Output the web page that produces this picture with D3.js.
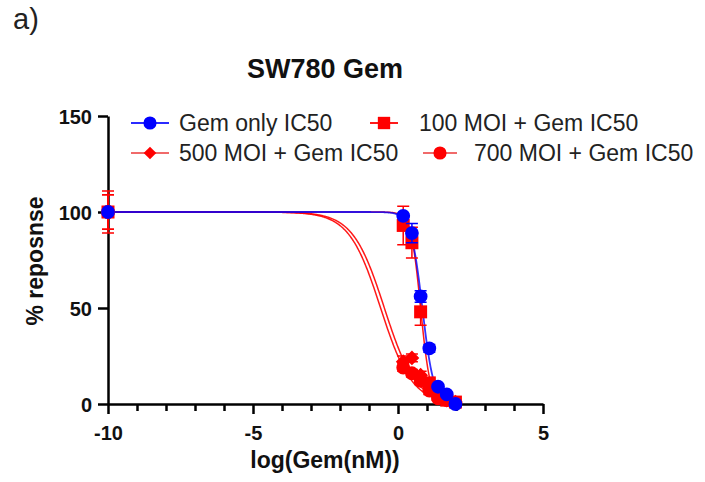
<!DOCTYPE html>
<html>
<head>
<meta charset="utf-8">
<script src="https://cdn.jsdelivr.net/npm/d3@7"></script>
<style>
  body { margin: 0; background: #fff; }
  text { font-family: 'Liberation Sans', Arial, sans-serif; }
</style>
</head>
<body>
<div id="chart"></div>
<script>
// log(Gem(nM)) doses, -10 stands for the untreated control
const doses = [-10, 0.18, 0.48, 0.78, 1.08, 1.38, 1.68, 1.98]

const gemOnly = [100, 98, 89, 56, 29, 9, 5, 0]
const gemOnlyErr = [1, 1, 5, 3, 2, 1, 1, 1]
const moi100 = [100, 93, 84, 48, 11, 5, 2, 1]
const moi100Err = [11, 10, 8, 7, 2, 1, 1, 1]
const moi500 = [100, 22, 24, 15, 9, 5, 2, 1]
const moi500Err = [9, 3, 2, 2, 2, 1, 1, 1]
const moi700 = [100, 19, 16, 12, 7, 3, 2, 0.5]
const moi700Err = [9, 2, 2, 2, 2, 1, 1, 1]

const seriesNames = ['Gem only IC50', '100 MOI + Gem IC50', '500 MOI + Gem IC50', '700 MOI + Gem IC50']
// fitted dose-response parameters (top 100, bottom 0)
const logIC50 = [0.84, 0.78, -0.47, -0.6]
const hillSlope = [2.2, 2.6, 0.8, 0.8]

const xTicks = [-10, -5, 0, 5]
const yTicks = [0, 50, 100, 150]

let width = 705
let height = 482

var svg = d3
  .select('#chart')
  .append('svg')
  .attr('width', width)
  .attr('height', height)

let xScale = d3.scaleLinear().domain([-10, 5]).range([108, 543])
let yScale = d3.scaleLinear().domain([0, 150]).range([404, 116])

let series = [
  { name: seriesNames[0], values: gemOnly, err: gemOnlyErr, color: '#0000ff', shape: 'circle', legendLine: '#2b2bff' },
  { name: seriesNames[1], values: moi100, err: moi100Err, color: '#ff0000', shape: 'square', legendLine: '#ff1a1a' },
  { name: seriesNames[2], values: moi500, err: moi500Err, color: '#ff0000', shape: 'diamond', legendLine: '#f06a6a' },
  { name: seriesNames[3], values: moi700, err: moi700Err, color: '#ff0000', shape: 'circle', legendLine: '#f06a6a' }
]
series.forEach((s, i) => {
  s.ic50 = logIC50[i]
  s.hill = hillSlope[i]
})

function marker(shape) {
  if (shape === 'circle') return d3.symbol(d3.symbolCircle, 150)()
  if (shape === 'square') return d3.symbol(d3.symbolSquare, 169)()
  return d3.symbol(d3.symbolSquare, 110)()
}

// axes (plain hyphen for negatives, like the original)
let xAxis = svg
  .append('g')
  .attr('transform', `translate(0,${yScale(0)})`)
  .call(
    d3.axisBottom(xScale)
      .tickValues(xTicks)
      .tickFormat(d => String(d))
      .tickSize(10)
      .tickSizeOuter(0)
      .tickPadding(12)
  )
svg
  .append('g')
  .attr('transform', `translate(0,${yScale(0)})`)
  .call(
    d3.axisBottom(xScale)
      .tickValues(d3.range(-10, 6).filter(d => d % 5 !== 0))
      .tickSize(7)
      .tickSizeOuter(0)
      .tickFormat('')
  )
  .select('.domain')
  .remove()

let yAxis = svg
  .append('g')
  .attr('transform', `translate(${xScale(-10)},0)`)
  .call(d3.axisLeft(yScale).tickValues(yTicks).tickSize(10).tickSizeOuter(0).tickPadding(6))

svg.selectAll('.domain, .tick line').attr('stroke', '#000').attr('stroke-width', 2.5)
svg
  .selectAll('.tick text')
  .attr('font-size', 20)
  .attr('font-weight', 'bold')
  .attr('fill', '#111')
yAxis.selectAll('.tick text').attr('dy', '0.36em')

// fitted curves
let fitXs = d3.range(-10, 2.02, 0.02)
var line = d3
  .line()
  .x(d => xScale(d[0]))
  .y(d => yScale(d[1]))

let drawOrder = [3, 2, 1, 0]
drawOrder.forEach(i => {
  let s = series[i]
  let pts = fitXs.map(x => [x, 100 / (1 + Math.pow(10, (x - s.ic50) * s.hill))])
  svg
    .append('path')
    .datum(pts)
    .attr('d', line)
    .attr('fill', 'none')
    .attr('stroke', s.color)
    .attr('stroke-width', i === 0 ? 1.8 : 1.5)
    .attr('stroke-opacity', i === 0 ? 0.8 : 0.9)
})

// error bars and points
drawOrder.forEach(i => {
  let s = series[i]
  let g = svg.append('g')
  let pts = doses.map((x, j) => ({ x: x, y: s.values[j], e: s.err[j] }))

  g.selectAll('.err')
    .data(pts)
    .enter()
    .append('path')
    .attr('d', d => {
      let x = xScale(d.x)
      let y1 = yScale(d.y + d.e)
      let y2 = yScale(Math.max(d.y - d.e, 0))
      return `M${x - 6},${y1}H${x + 6}M${x},${y1}V${y2}M${x - 6},${y2}H${x + 6}`
    })
    .attr('fill', 'none')
    .attr('stroke', s.color)
    .attr('stroke-width', 1.5)

  g.selectAll('.pt')
    .data(pts)
    .enter()
    .append('path')
    .attr('d', marker(s.shape))
    .attr('transform', d => {
      let rot = s.shape === 'diamond' ? ' rotate(45)' : ''
      return `translate(${xScale(d.x)},${yScale(d.y)})${rot}`
    })
    .attr('fill', s.color)
})

// legend
let legendPos = [
  { x: 131, lineEnd: 169, tx: 179, y: 123 },
  { x: 370, lineEnd: 398, tx: 419, y: 123 },
  { x: 131, lineEnd: 169, tx: 179, y: 153 },
  { x: 423, lineEnd: 457, tx: 474, y: 153 }
]
let legend = svg
  .selectAll('.legend')
  .data(series)
  .enter()
  .append('g')
  .attr('class', 'legend')
  .attr('transform', (d, i) => `translate(0,${legendPos[i].y})`)

legend
  .append('line')
  .attr('x1', (d, i) => legendPos[i].x)
  .attr('x2', (d, i) => legendPos[i].lineEnd)
  .attr('stroke', d => d.legendLine)
  .attr('stroke-width', 2)

legend
  .append('path')
  .attr('d', d => marker(d.shape))
  .attr('transform', (d, i) => {
    let cx = (legendPos[i].x + legendPos[i].lineEnd) / 2
    return `translate(${cx},0)` + (d.shape === 'diamond' ? ' rotate(45) scale(0.85)' : ' scale(0.95)')
  })
  .attr('fill', d => d.color)

legend
  .append('text')
  .text(d => d.name)
  .attr('x', (d, i) => legendPos[i].tx)
  .attr('y', 0)
  .attr('dy', '0.35em')
  .attr('font-size', 23)
  .attr('fill', '#222')

// titles
svg
  .append('text')
  .text('a)')
  .attr('x', 13)
  .attr('y', 29)
  .attr('font-size', 29)
  .attr('fill', '#222')

svg
  .append('text')
  .text('SW780 Gem')
  .attr('x', 325)
  .attr('y', 78)
  .attr('text-anchor', 'middle')
  .attr('font-size', 27)
  .attr('font-weight', 'bold')
  .attr('fill', '#111')

svg
  .append('text')
  .text('log(Gem(nM))')
  .attr('x', 325)
  .attr('y', 468)
  .attr('text-anchor', 'middle')
  .attr('font-size', 23)
  .attr('font-weight', 'bold')
  .attr('fill', '#111')

svg
  .append('text')
  .text('% reposnse')
  .attr('transform', 'translate(43,261) rotate(-90)')
  .attr('text-anchor', 'middle')
  .attr('font-size', 23)
  .attr('font-weight', 'bold')
  .attr('fill', '#111')
</script>
</body>
</html>
